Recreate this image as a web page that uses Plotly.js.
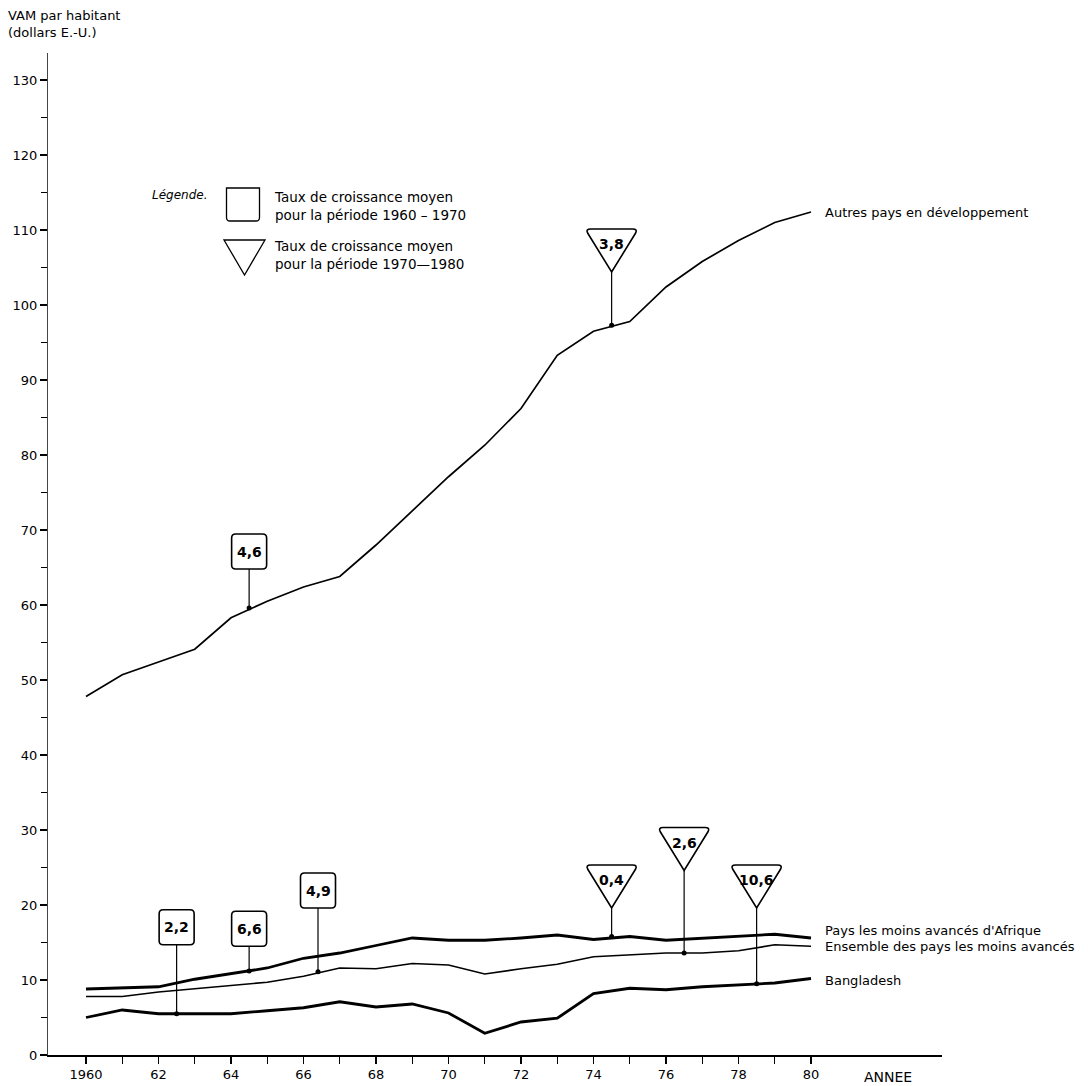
<!DOCTYPE html>
<html>
<head>
<meta charset="utf-8">
<script src="https://cdn.plot.ly/plotly-3.0.1.min.js"></script>
<style>
  html, body { margin: 0; padding: 0; background: #ffffff; }
  #chart { width: 1088px; height: 1086px; }
</style>
</head>
<body>
<div id="chart"></div>
<script>
// ---------- DATA ----------
const years = [1960, 1961, 1962, 1963, 1964, 1965, 1966, 1967, 1968, 1969, 1970,
               1971, 1972, 1973, 1974, 1975, 1976, 1977, 1978, 1979, 1980];

const autresPays   = [47.8, 50.7, 52.4, 54.1, 58.3, 60.5, 62.4, 63.8, 68.0, 72.6, 77.1,
                      81.3, 86.2, 93.3, 96.5, 97.8, 102.4, 105.8, 108.6, 111.0, 112.4];
const pmaAfrique   = [8.8, 9.0, 9.1, 10.1, 10.8, 11.6, 12.9, 13.6, 14.6, 15.6, 15.3,
                      15.3, 15.6, 16.0, 15.4, 15.8, 15.3, 15.6, 15.8, 16.1, 15.6];
const ensemblePma  = [7.8, 7.8, 8.4, 8.8, 9.3, 9.7, 10.5, 11.6, 11.5, 12.2, 12.0,
                      10.8, 11.5, 12.1, 13.1, 13.4, 13.6, 13.6, 13.9, 14.7, 14.5];
const bangladesh   = [5.0, 6.0, 5.5, 5.5, 5.5, 5.9, 6.3, 7.1, 6.4, 6.8, 5.6,
                      2.9, 4.4, 4.9, 8.2, 8.9, 8.7, 9.1, 9.4, 9.6, 10.2];

const seriesNames = ["Autres pays en développement",
                     "Pays les moins avancés d'Afrique",
                     "Ensemble des pays les moins avancés",
                     "Bangladesh"];

// growth-rate markers, 1960-1970 (boxes)
const boxYears    = [1962.5, 1964.5, 1966.4, 1964.5];
const boxLabels   = ["2,2", "6,6", "4,9", "4,6"];
const boxBases    = [14.7, 14.5, 19.6, 64.8];
const boxStemEnds = [5.5, 11.2, 11.1, 59.6];

// growth-rate markers, 1970-1980 (triangles)
const triYears    = [1974.5, 1974.5, 1976.5, 1978.5];
const triLabels   = ["3,8", "0,4", "2,6", "10,6"];
const triBases    = [104.4, 19.6, 24.6, 19.6];
const triStemEnds = [97.3, 15.8, 13.6, 9.5];

// axis ticks
const yTickVals  = [0, 10, 20, 30, 40, 50, 60, 70, 80, 90, 100, 110, 120, 130];
const yTickText  = ["0", "10", "20", "30", "40", "50", "60", "70", "80", "90", "100", "110", "120", "130"];
const xTickVals  = [1960, 1961, 1962, 1963, 1964, 1965, 1966, 1967, 1968, 1969, 1970,
                    1971, 1972, 1973, 1974, 1975, 1976, 1977, 1978, 1979, 1980];
const xTickText  = ["1960", "", "62", "", "64", "", "66", "", "68", "", "70",
                    "", "72", "", "74", "", "76", "", "78", "", "80"];

// ---------- LAYOUT GEOMETRY ----------
const W = 1088, H = 1086;
const M = { l: 48, r: 146, t: 53, b: 31 };
const plotW = W - M.l - M.r, plotH = H - M.t - M.b;
const px2x = px => (px - M.l) / plotW;          // page px -> paper x
const py2y = py => (H - M.b - py) / plotH;      // page py -> paper y

const FONT = "DejaVu Sans, Liberation Sans, sans-serif";
const INK = "#000000";

// ---------- TRACES ----------
const traces = [
  { x: years, y: autresPays,  mode: "lines", line: { color: INK, width: 1.7 }, name: seriesNames[0] },
  { x: years, y: pmaAfrique,  mode: "lines", line: { color: INK, width: 2.8 }, name: seriesNames[1] },
  { x: years, y: ensemblePma, mode: "lines", line: { color: INK, width: 1.7 }, name: seriesNames[2] },
  { x: years, y: bangladesh,  mode: "lines", line: { color: INK, width: 2.8 }, name: seriesNames[3] },
  { x: boxYears.concat(triYears), y: boxStemEnds.concat(triStemEnds), mode: "markers",
    marker: { color: INK, size: 5 }, hoverinfo: "skip" }
];

// ---------- SHAPES ----------
const shapes = [];
const boxPath = "M -13.5 0 L 13.5 0 Q 17.5 0 17.5 4 L 17.5 31 Q 17.5 35 13.5 35 L -13.5 35 Q -17.5 35 -17.5 31 L -17.5 4 Q -17.5 0 -13.5 0 Z";
const triPath = "M -21 43 L 21 43 Q 26 43 24 39 L 0 0 L -24 39 Q -26 43 -21 43 Z";

boxYears.forEach((yr, i) => {
  shapes.push({ type: "line", xref: "x", yref: "y", x0: yr, x1: yr, y0: boxBases[i], y1: boxStemEnds[i],
                line: { color: INK, width: 1.2 } });
  shapes.push({ type: "path", xref: "x", yref: "y", xsizemode: "pixel", ysizemode: "pixel",
                xanchor: yr, yanchor: boxBases[i], path: boxPath,
                fillcolor: "#ffffff", line: { color: INK, width: 1.6 } });
});
triYears.forEach((yr, i) => {
  shapes.push({ type: "line", xref: "x", yref: "y", x0: yr, x1: yr, y0: triBases[i], y1: triStemEnds[i],
                line: { color: INK, width: 1.2 } });
  shapes.push({ type: "path", xref: "x", yref: "y", xsizemode: "pixel", ysizemode: "pixel",
                xanchor: yr, yanchor: triBases[i], path: triPath,
                fillcolor: "#ffffff", line: { color: INK, width: 1.6 } });
});

// legend symbols (paper positioned)
shapes.push({ type: "path", xref: "paper", yref: "paper", xsizemode: "pixel", ysizemode: "pixel",
              xanchor: px2x(243), yanchor: py2y(221),
              path: "M -13 0 L 13 0 Q 16.5 0 16.5 3.5 L 16.5 33 L -16.5 33 L -16.5 3.5 Q -16.5 0 -13 0 Z",
              fillcolor: "#ffffff", line: { color: INK, width: 1.3 } });
shapes.push({ type: "path", xref: "paper", yref: "paper", xsizemode: "pixel", ysizemode: "pixel",
              xanchor: px2x(244.5), yanchor: py2y(275),
              path: "M -20.5 35 L 20.5 35 L 0 0 Z",
              fillcolor: "#ffffff", line: { color: INK, width: 1.3 } });

// ---------- ANNOTATIONS ----------
const annotations = [];
boxYears.forEach((yr, i) => {
  annotations.push({ x: yr, y: boxBases[i], xref: "x", yref: "y", yshift: 17.5, showarrow: false,
                     text: "<b>" + boxLabels[i] + "</b>", font: { family: FONT, size: 14, color: INK } });
});
triYears.forEach((yr, i) => {
  annotations.push({ x: yr, y: triBases[i], xref: "x", yref: "y", yshift: 28, showarrow: false,
                     text: "<b>" + triLabels[i] + "</b>", font: { family: FONT, size: 14, color: INK } });
});

// series labels at the line ends
const last = years.length - 1;
const endVals = [autresPays[last], pmaAfrique[last], ensemblePma[last], bangladesh[last]];
const endShift = [0, 8, 0, -2];
seriesNames.forEach((nm, i) => {
  annotations.push({ x: years[last], y: endVals[i], xref: "x", yref: "y", xanchor: "left", xshift: 12,
                     yshift: endShift[i], showarrow: false, text: nm,
                     font: { family: FONT, size: 13, color: INK } });
});

// axis titles & legend text
annotations.push({ xref: "paper", yref: "paper", x: px2x(6), y: py2y(6), xanchor: "left", yanchor: "top",
                   align: "left", showarrow: false,
                   text: "VAM par habitant<br>(dollars E.-U.)",
                   font: { family: FONT, size: 13, color: INK } });
annotations.push({ xref: "paper", yref: "paper", x: px2x(862), y: py2y(1077), xanchor: "left", yanchor: "middle",
                   showarrow: false, text: "ANNEE",
                   font: { family: FONT, size: 14, color: INK } });
annotations.push({ xref: "paper", yref: "paper", x: px2x(150), y: py2y(195), xanchor: "left", yanchor: "middle",
                   showarrow: false, text: "<i>Légende.</i>",
                   font: { family: FONT, size: 12, color: INK } });
annotations.push({ xref: "paper", yref: "paper", x: px2x(272), y: py2y(206), xanchor: "left", yanchor: "middle",
                   align: "left", showarrow: false,
                   text: "Taux de croissance moyen<br>pour la période 1960 – 1970",
                   font: { family: FONT, size: 13.5, color: INK } });
annotations.push({ xref: "paper", yref: "paper", x: px2x(272), y: py2y(255), xanchor: "left", yanchor: "middle",
                   align: "left", showarrow: false,
                   text: "Taux de croissance moyen<br>pour la période 1970—1980",
                   font: { family: FONT, size: 13.5, color: INK } });

// ---------- LAYOUT ----------
const layout = {
  width: W, height: H,
  margin: M,
  paper_bgcolor: "#ffffff", plot_bgcolor: "#ffffff",
  showlegend: false,
  font: { family: FONT, size: 13, color: INK },
  xaxis: {
    range: [1960 - 38 / 36.25, 1960 + 856 / 36.25],
    tickmode: "array", tickvals: xTickVals, ticktext: xTickText,
    ticks: "outside", ticklen: 7, tickwidth: 1.2, tickcolor: INK,
    showline: true, linecolor: INK, linewidth: 1.6,
    showgrid: false, zeroline: false,
    tickfont: { family: FONT, size: 13, color: INK }
  },
  yaxis: {
    range: [0, 133.6],
    tickmode: "array", tickvals: yTickVals, ticktext: yTickText,
    ticks: "outside", ticklen: 7, tickwidth: 1.2, tickcolor: INK,
    minor: { dtick: 5, ticks: "outside", ticklen: 6, tickwidth: 1.2, tickcolor: INK, showgrid: false },
    showline: true, linecolor: "#444444", linewidth: 1,
    showgrid: false, zeroline: false,
    tickfont: { family: FONT, size: 13, color: INK }
  },
  shapes: shapes,
  annotations: annotations
};

Plotly.newPlot("chart", traces, layout, { displayModeBar: false, staticPlot: true });
</script>
</body>
</html>
